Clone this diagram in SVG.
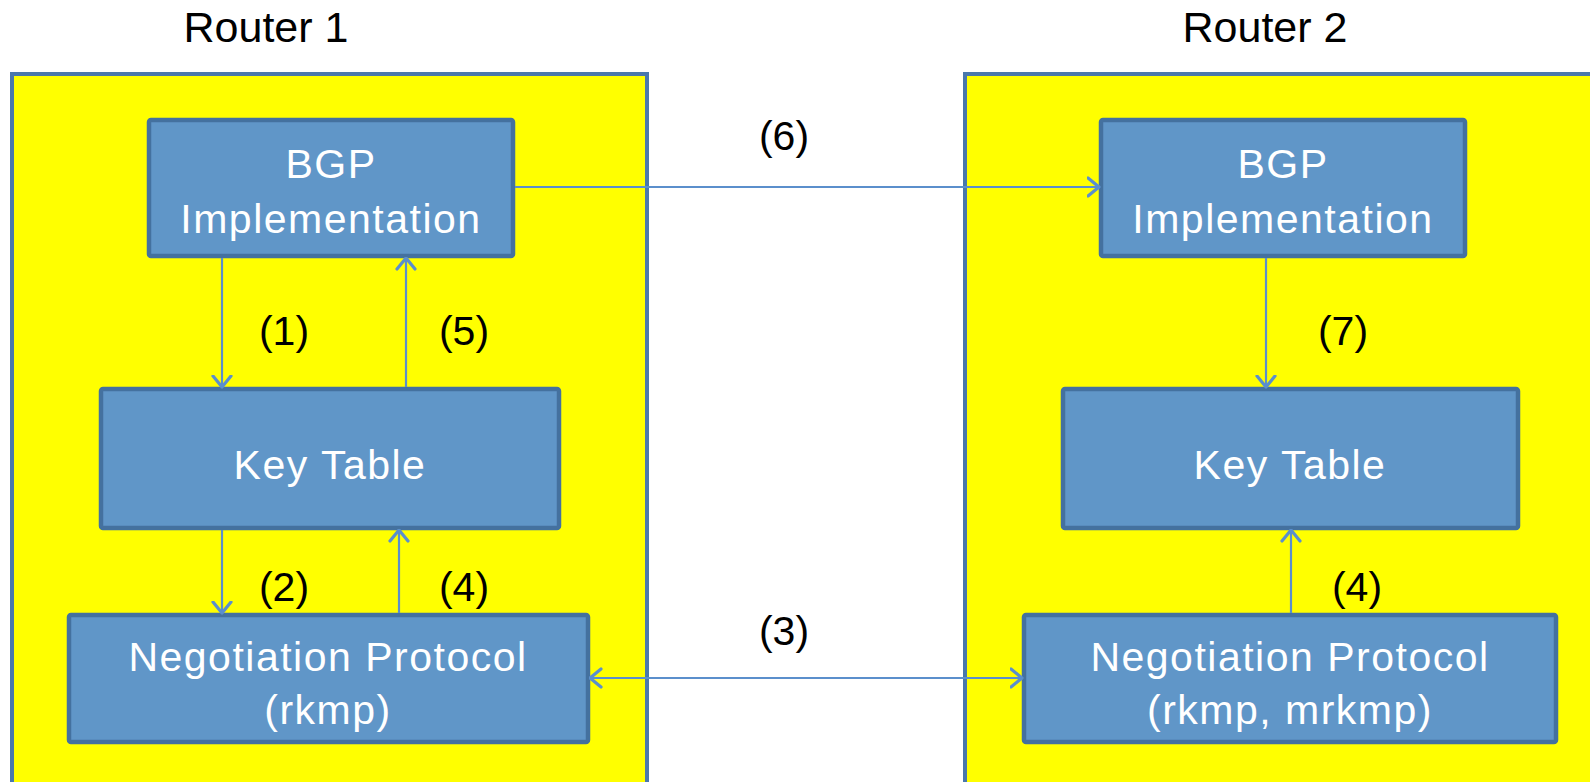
<svg xmlns="http://www.w3.org/2000/svg" width="1590" height="782" viewBox="0 0 1590 782">
  <style>
    .router { fill: #FFFF00; stroke: #4A78AC; stroke-width: 4; }
    .box { fill: #6096C8; stroke: #44719F; stroke-width: 4.5; }
    .title { font-family: "Liberation Sans", Arial, sans-serif; font-size: 43px; fill: #000; text-anchor: middle; }
    .lbl { font-family: "Liberation Sans", Arial, sans-serif; font-size: 41px; letter-spacing: 1.5px; fill: #FFFFFF; text-anchor: middle; }
    .num { font-family: "Liberation Sans", Arial, sans-serif; font-size: 41px; fill: #000; text-anchor: middle; }
    .conn { stroke: #5B8FCC; stroke-width: 2.2; fill: none; }
  </style>
  <defs>
    <marker id="arr" viewBox="0 0 14 22" refX="12.5" refY="11" markerWidth="14" markerHeight="22" markerUnits="userSpaceOnUse" orient="auto-start-reverse">
      <path d="M1.5,2 L12.5,11 L1.5,20" fill="none" stroke="#5B8FCC" stroke-width="3.2" stroke-linecap="round" stroke-linejoin="round"/>
    </marker>
  </defs>
  <rect width="1590" height="782" fill="#FFFFFF"/>

  <g id="router1">
    <rect class="router" x="12" y="74" width="635" height="740"/>
    <text class="title" x="266" y="42">Router 1</text>
  </g>
  <g id="router2">
    <rect class="router" x="965" y="74" width="660" height="740"/>
    <text class="title" x="1265" y="42">Router 2</text>
  </g>

  <g id="bgp1">
    <rect class="box" x="149" y="120" width="364" height="136" rx="2"/>
    <text class="lbl" x="331" y="178">BGP</text>
    <text class="lbl" x="331" y="233">Implementation</text>
  </g>
  <g id="keytable1">
    <rect class="box" x="101" y="389" width="458" height="139" rx="2"/>
    <text class="lbl" x="330" y="479">Key Table</text>
  </g>
  <g id="neg1">
    <rect class="box" x="69" y="615" width="519" height="127" rx="2"/>
    <text class="lbl" x="328" y="671">Negotiation Protocol</text>
    <text class="lbl" x="328" y="724">(rkmp)</text>
  </g>

  <g id="bgp2">
    <rect class="box" x="1101" y="120" width="364" height="136" rx="2"/>
    <text class="lbl" x="1283" y="178">BGP</text>
    <text class="lbl" x="1283" y="233">Implementation</text>
  </g>
  <g id="keytable2">
    <rect class="box" x="1063" y="389" width="455" height="139" rx="2"/>
    <text class="lbl" x="1290" y="479">Key Table</text>
  </g>
  <g id="neg2">
    <rect class="box" x="1024" y="615" width="532" height="127" rx="2"/>
    <text class="lbl" x="1290" y="671">Negotiation Protocol</text>
    <text class="lbl" x="1290" y="724">(rkmp, mrkmp)</text>
  </g>

  <g id="connectors">
    <line class="conn" x1="222" y1="258" x2="222" y2="387" marker-end="url(#arr)"/>
    <line class="conn" x1="406" y1="387" x2="406" y2="258" marker-end="url(#arr)"/>
    <line class="conn" x1="222" y1="530" x2="222" y2="613" marker-end="url(#arr)"/>
    <line class="conn" x1="399" y1="613" x2="399" y2="530" marker-end="url(#arr)"/>
    <line class="conn" x1="515" y1="187" x2="1099" y2="187" marker-end="url(#arr)"/>
    <line class="conn" x1="1266" y1="258" x2="1266" y2="387" marker-end="url(#arr)"/>
    <line class="conn" x1="1291" y1="613" x2="1291" y2="530" marker-end="url(#arr)"/>
    <line class="conn" x1="590" y1="678" x2="1022" y2="678" marker-start="url(#arr)" marker-end="url(#arr)"/>
  </g>

  <g id="labels">
    <text class="num" x="284" y="345">(1)</text>
    <text class="num" x="464" y="345">(5)</text>
    <text class="num" x="284" y="601">(2)</text>
    <text class="num" x="464" y="601">(4)</text>
    <text class="num" x="784" y="150">(6)</text>
    <text class="num" x="1343" y="345">(7)</text>
    <text class="num" x="1357" y="601">(4)</text>
    <text class="num" x="784" y="645">(3)</text>
  </g>
</svg>
